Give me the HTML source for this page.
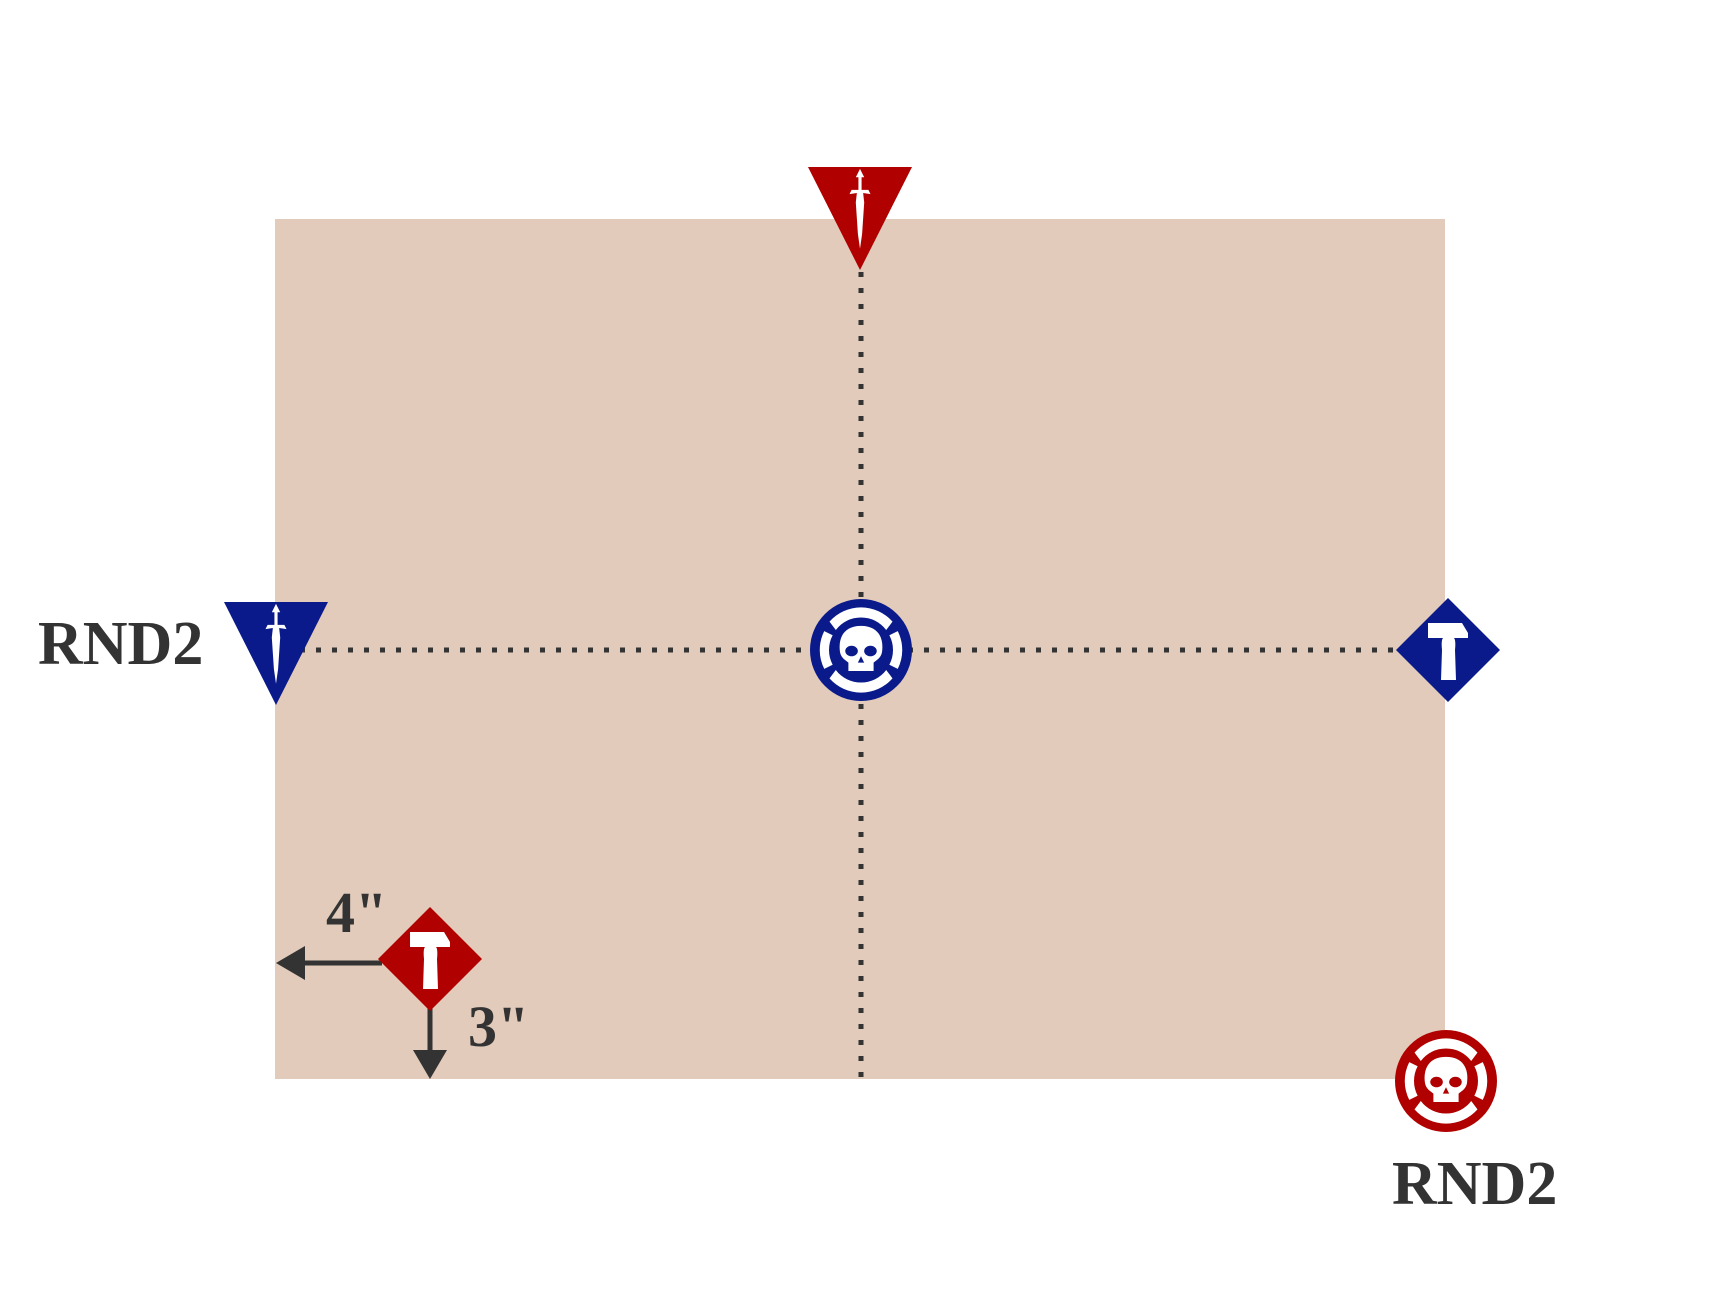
<!DOCTYPE html>
<html><head><style>
html,body{margin:0;padding:0;background:#fff;width:1720px;height:1300px;overflow:hidden}
svg{display:block}
text{font-family:"Liberation Serif",serif;font-weight:bold;fill:#333}
</style></head><body>
<svg width="1720" height="1300" viewBox="0 0 1720 1300">
<defs>
<g id="dagger" fill="#fff">
<path d="M0,-42 L4,-34 L1.5,-34 L1.5,-22 L8,-22 L10,-18 L3,-19 L4,-10 L2,20 L0,34 L-2,20 L-4,-10 L-3,-19 L-10,-18 L-8,-22 L-1.5,-22 L-1.5,-34 L-4,-34 Z"/>
</g>
<g id="hammer" fill="#fff">
<path d="M-20,-27 L14,-27 L20,-17 L20,-12 L6,-12 L6,-12 Q8,-10 7,0 L8,30 L-7,30 L-6,0 Q-7,-10 -5,-12 L-20,-12 Z"/>
</g>
<g id="skull">
<path d="M-30,-27 A40,40 0 0 1 30,-27 L24,-19 A30,30 0 0 0 -24,-19 Z" fill="#fff"/>
<path d="M-30,27 A40,40 0 0 0 30,27 L24,19 A30,30 0 0 1 -24,19 Z" fill="#fff"/>
<path d="M-35,-18 A40,40 0 0 0 -35,18 L-27,14 A30,30 0 0 1 -27,-14 Z" fill="#fff"/>
<path d="M35,-18 A40,40 0 0 1 35,18 L27,14 A30,30 0 0 0 27,-14 Z" fill="#fff"/>
<path d="M0,-23 C-16,-23 -22,-12 -20,2 C-19,8 -14,10 -12,12 L-12,20 L12,20 L12,12 C14,10 19,8 20,2 C22,-12 16,-23 0,-23 Z" fill="#fff"/>
<ellipse cx="-9" cy="1" rx="6" ry="5" fill="currentColor"/>
<ellipse cx="9" cy="1" rx="6" ry="5" fill="currentColor"/>
<path d="M0,6 L-3,12 L3,12 Z" fill="currentColor"/>
</g>
</defs>
<rect x="275" y="219" width="1170" height="860" fill="#e2cbbb"/>
<g stroke="#333" stroke-width="5" stroke-dasharray="5 11">
<line x1="861" y1="272" x2="861" y2="1079"/>
<line x1="300" y1="650" x2="1400" y2="650"/>
</g>
<polygon points="808,167 912,167 860,270" fill="#b00000"/>
<use href="#dagger" transform="translate(860,213) scale(1.05)"/>
<polygon points="224,602 328,602 276,705" fill="#0a1a8a"/>
<use href="#dagger" transform="translate(276,648) scale(1.05)"/>
<circle cx="861" cy="650" r="51" fill="#0a1a8a"/>
<use href="#skull" transform="translate(861,650) scale(1.05)" style="color:#0a1a8a"/>
<polygon points="1448,598 1500,650 1448,702 1396,650" fill="#0a1a8a"/>
<use href="#hammer" transform="translate(1448,650)"/>
<circle cx="1446" cy="1081" r="51" fill="#b00000"/>
<use href="#skull" transform="translate(1446,1081) scale(1.05)" style="color:#b00000"/>
<line x1="382" y1="963" x2="300" y2="963" stroke="#333" stroke-width="5"/>
<polygon points="276,963 305,946 305,980" fill="#333"/>
<line x1="430" y1="1005" x2="430" y2="1055" stroke="#333" stroke-width="5"/>
<polygon points="430,1079 413,1050 447,1050" fill="#333"/>
<polygon points="430,907 482,959 430,1011 378,959" fill="#b00000"/>
<use href="#hammer" transform="translate(430,959)"/>
<text x="326" y="932" font-size="58">4"</text>
<text x="468" y="1046" font-size="58">3"</text>
<text x="38" y="664" font-size="62">RND2</text>
<text x="1392" y="1204" font-size="62">RND2</text>
</svg>
</body></html>
